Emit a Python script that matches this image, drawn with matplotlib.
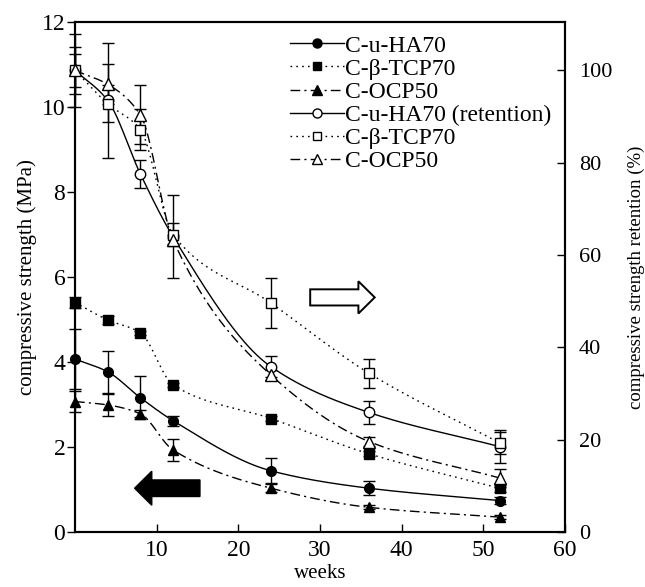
import numpy as np
import matplotlib
matplotlib.use("Agg")
import matplotlib.pyplot as plt
from matplotlib.lines import Line2D
from matplotlib.patches import FancyArrow

plt.rcParams['font.family'] = ['Liberation Serif', 'DejaVu Serif']

# =========================
# data
# =========================

weeks = [0, 4, 8, 12, 24, 36, 52]

# compressive strength (MPa), left axis
ha_mpa = [4.07, 3.77, 3.16, 2.62, 1.44, 1.03, 0.74]
ha_mpa_err = [0.70, 0.50, 0.50, 0.12, 0.29, 0.17, 0.08]
tcp_mpa = [5.40, 4.99, 4.69, 3.46, 2.67, 1.84, 1.03]
tcp_mpa_err = [0.13, 0.09, 0.05, 0.05, 0.05, 0.06, 0.08]
ocp_mpa = [3.07, 2.99, 2.78, 1.93, 1.03, 0.58, 0.35]
ocp_mpa_err = [0.25, 0.25, 0.08, 0.27, 0.10, 0.05, 0.05]

# strength retention (%), right axis
ha_ret = [100, 93.5, 77.6, 64.0, 35.8, 25.9, 18.5]
ha_ret_err = [8.0, 12.5, 3.0, 9.0, 2.3, 2.4, 3.5]
tcp_ret = [100, 92.8, 87.2, 64.4, 49.6, 34.4, 19.3]
tcp_ret_err = [5.0, 4.0, 4.4, 2.5, 5.5, 3.1, 2.4]
ocp_ret = [100, 97.0, 90.4, 63.3, 34.0, 19.6, 11.7]
ocp_ret_err = [3.5, 4.3, 6.4, 1.0, 1.0, 1.0, 2.0]

labels = ["C-u-HA70", "C-β-TCP70", "C-OCP50",
          "C-u-HA70 (retention)", "C-β-TCP70", "C-OCP50"]


def smooth(x, y, n=300):
    # monotone cubic hermite through the points (drawing only)
    x = np.asarray(x, float)
    y = np.asarray(y, float)
    h = np.diff(x)
    d = np.diff(y) / h
    m = np.zeros_like(y)
    for k in range(1, len(x) - 1):
        if d[k - 1] * d[k] > 0:
            w1 = 2 * h[k] + h[k - 1]
            w2 = h[k] + 2 * h[k - 1]
            m[k] = (w1 + w2) / (w1 / d[k - 1] + w2 / d[k])
    m[0] = d[0]
    m[-1] = d[-1]
    xs = np.linspace(x[0], x[-1], n)
    i = np.clip(np.searchsorted(x, xs) - 1, 0, len(h) - 1)
    t = (xs - x[i]) / h[i]
    ys = ((2*t**3 - 3*t**2 + 1) * y[i] + (t**3 - 2*t**2 + t) * h[i] * m[i]
          + (-2*t**3 + 3*t**2) * y[i + 1] + (t**3 - t**2) * h[i] * m[i + 1])
    return xs, ys


styles = ["-", (0, (1.2, 3)), (0, (7, 3, 1.5, 3))]
markers = ["o", "s", "^"]
msizes = [7, 6.5, 7.5]

fig = plt.figure(figsize=(6.45, 5.87), dpi=100)
ax = fig.add_axes([75/645, 55/587, 490/645, 510/587])
ax2 = ax.twinx()

handles = []

# filled symbols, MPa
for vals, errs, ls, mk, ms in zip([ha_mpa, tcp_mpa, ocp_mpa],
                                  [ha_mpa_err, tcp_mpa_err, ocp_mpa_err],
                                  styles, markers, msizes):
    xs, ys = smooth(weeks, vals)
    ax.plot(xs, ys, color="black", lw=1, linestyle=ls)
    eb = ax.errorbar(weeks, vals, yerr=errs, fmt=mk, color="black", ms=ms,
                     mfc="black", mec="black", ecolor="black", elinewidth=1,
                     capsize=4.5, capthick=1, zorder=3)
    for art in eb.get_children():
        art.set_clip_on(False)
    handles.append(Line2D([], [], color="black", lw=1, linestyle=ls,
                          marker=mk, ms=ms - 0.5, mfc="black", mec="black"))

# open symbols, retention
for vals, errs, ls, mk, ms in zip([ha_ret, tcp_ret, ocp_ret],
                                  [ha_ret_err, tcp_ret_err, ocp_ret_err],
                                  styles, markers, msizes):
    xs, ys = smooth(weeks, vals)
    ax2.plot(xs, ys, color="black", lw=1, linestyle=ls)
    eb = ax2.errorbar(weeks, vals, yerr=errs, fmt=mk, color="black", ms=ms + 0.5,
                      mfc="white", mec="black", mew=1, ecolor="black", elinewidth=1,
                      capsize=4.5, capthick=1, zorder=3)
    for art in eb.get_children():
        art.set_clip_on(False)
    handles.append(Line2D([], [], color="black", lw=1, linestyle=ls,
                          marker=mk, ms=ms - 0.5, mfc="white", mec="black"))

# arrows
ax.add_patch(FancyArrow(15.3, 1.03, -8.0, 0, width=0.39, head_width=0.8,
                        head_length=2.1, length_includes_head=True,
                        fc="black", ec="black", lw=1, zorder=4))
ax.add_patch(FancyArrow(28.8, 5.52, 7.9, 0, width=0.38, head_width=0.76,
                        head_length=2.0, length_includes_head=True,
                        fc="white", ec="black", lw=1.4, zorder=4))

ax.set_xlim(0, 60)
ax.set_ylim(0, 12)
ax2.set_ylim(0, 110.5)

ax.set_xticks([10, 20, 30, 40, 50, 60])
ax.set_yticks([0, 2, 4, 6, 8, 10, 12])
ax2.set_yticks([0, 20, 40, 60, 80, 100])

ax.tick_params(axis="y", direction="out", length=6, width=1, labelsize=17, pad=1)
ax.tick_params(axis="x", direction="in", length=6, width=1, labelsize=17, pad=6)
ax2.tick_params(axis="y", direction="in", length=6, width=1, labelsize=16, pad=10)

for a in (ax, ax2):
    for s in a.spines.values():
        s.set_linewidth(1.5)

ax.set_xlabel("weeks", fontsize=15, labelpad=2)
ax.set_ylabel("compressive strength (MPa)", fontsize=15, labelpad=3)
ax2.set_ylabel("compressive strength retention (%)", fontsize=13.5, labelpad=11)

fig.legend(handles, labels, loc="upper left",
           bbox_to_anchor=(290/645, 1 - 35/587), frameon=False,
           fontsize=17, handlelength=2.3, handletextpad=0.05,
           labelspacing=0.07, borderaxespad=0, borderpad=0)

plt.savefig("out.png", dpi=100)
